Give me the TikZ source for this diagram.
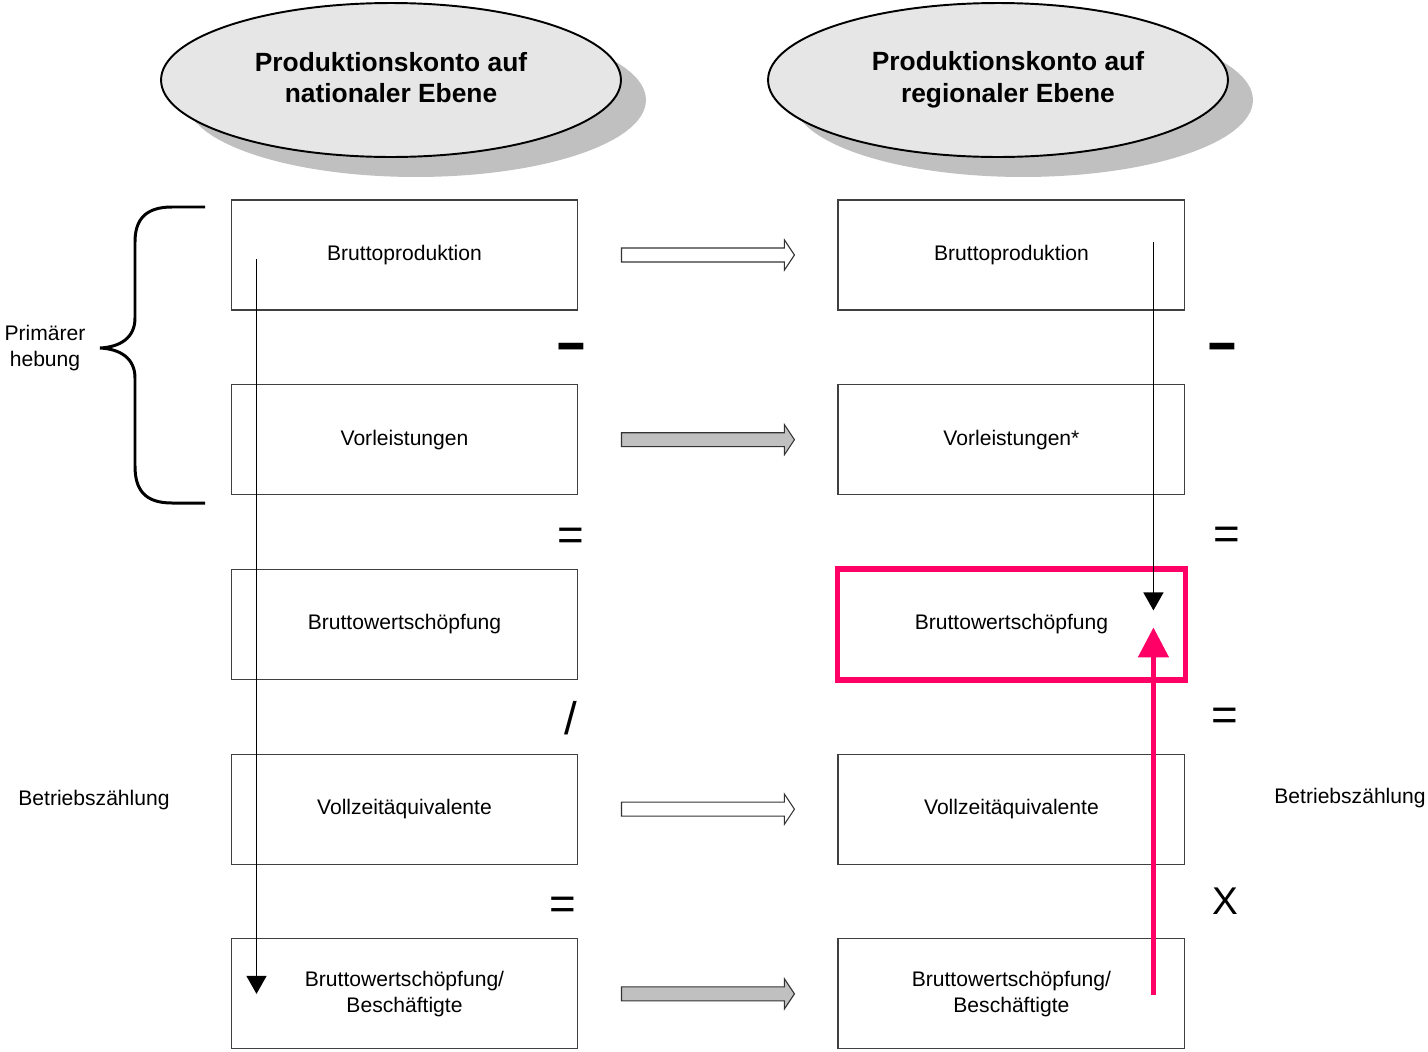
\documentclass[tikz,border=0pt]{standalone}
\usepackage{fontspec}
\setmainfont{Liberation Sans}
\usetikzlibrary{positioning,shapes.geometric,shadows,arrows.meta}
\definecolor{hotpink}{RGB}{255,0,102}
\definecolor{ellgray}{RGB}{230,230,230}
\definecolor{shadowgray}{RGB}{192,192,192}
\tikzset{
  box/.style={rectangle, draw=black!75, line width=0.6pt, minimum width=6.94cm, minimum height=2.2cm, inner sep=0pt, align=center, font=\fontsize{12}{14.5}\selectfont},
  head ell/.style={ellipse, draw, line width=1.1pt, fill=ellgray, minimum width=9.2cm, minimum height=3.08cm, inner sep=0pt, align=center, font=\bfseries\fontsize{15}{18}\selectfont, drop shadow={shadow xshift=0.5cm, shadow yshift=-0.4cm, fill=shadowgray, opacity=1}},
  side label/.style={align=center, inner sep=0pt, font=\fontsize{12}{14.5}\selectfont},
  op sign/.style={inner sep=0pt, font=\fontsize{26}{28}\selectfont},
  block arrow/.style={draw=black!80, line width=0.6pt},
  pink frame/.style={draw=hotpink, line width=3pt},
  thin arrow/.style={line width=0.8pt, -{Triangle[length=0.36cm,width=0.4cm]}},
  pink arrow/.style={draw=hotpink, line width=2.8pt, -{Triangle[length=0.6cm,width=0.6cm]}}
}
% block arrow between two boxes: fill, left box, right box
\newcommand{\blockarrow}[3]{%
  \draw[block arrow, fill=#1]
    ([xshift=0.86cm,yshift=0.14cm]#2.east) -- ([xshift=-1.06cm,yshift=0.14cm]#3.west)
    -- ([xshift=-1.06cm,yshift=0.3cm]#3.west) -- ([xshift=-0.86cm]#3.west)
    -- ([xshift=-1.06cm,yshift=-0.3cm]#3.west) -- ([xshift=-1.06cm,yshift=-0.14cm]#3.west)
    -- ([xshift=0.86cm,yshift=-0.14cm]#2.east) -- cycle;}
% thick minus sign
\newcommand{\thickminus}{\scalebox{1.5}[2]{\bfseries\fontsize{19}{21}\selectfont –}}

\begin{document}
\begin{tikzpicture}[x=0.02cm, y=-0.02cm]
    \useasboundingbox (0,0) rectangle (1428,1052);

    % Headings
    \node[head ell] (hn) at (391,80) {\raisebox{0.1cm}{Produktionskonto auf}\\\raisebox{0.1cm}{nationaler Ebene}};
    \node[head ell] (hr) at (998,80) {\hspace*{0.4cm}Produktionskonto auf\\\hspace*{0.4cm}regionaler Ebene};

    % National column
    \node[box] (np) at (404.5,255) {Bruttoproduktion};
    \node[box] (nv) [below=1.474cm of np] {Vorleistungen};
    \node[box] (nw) [below=1.474cm of nv] {Bruttowertschöpfung};
    \node[box] (nz) [below=1.474cm of nw] {Vollzeitäquivalente};
    \node[box] (nb) [below=1.474cm of nz] {Bruttowertschöpfung/\\Beschäftigte};

    % Regional column
    \node[box] (rp) [right=5.18cm of np] {Bruttoproduktion};
    \node[box] (rv) [right=5.18cm of nv] {Vorleistungen*};
    \node[box] (rw) [right=5.18cm of nw] {Bruttowertschöpfung};
    \node[box] (rz) [right=5.18cm of nz] {Vollzeitäquivalente};
    \node[box] (rb) [right=5.18cm of nb] {Bruttowertschöpfung/\\Beschäftigte};
    \draw[pink frame] (rw.north west) rectangle (rw.south east);

    % Operators
    \node[op sign] (nm) at (571,354) {\thickminus};
    \node[op sign] (ne1) at (571,539) {=};
    \node[op sign] (nd) at (571,718) {/};
    \node[op sign] (ne2) at (563,908) {=};
    \node[op sign] (rm) at (1222,354) {\thickminus};
    \node[op sign] (re1) at (1227,538) {=};
    \node[op sign] (re2) at (1225,719) {=};
    \node[op sign, font=\fontsize{22}{24}\selectfont] (rx) at (1225,901) {X};

    % Side labels
    \node[side label] (prim) at (45,348) {Primärer\\hebung};
    \node[side label] (betl) at (94,800) {Betriebszählung};
    \node[side label] (betr) at (1350,798) {Betriebszählung};

    % Brace
    \draw[line width=1.7pt] (205,207) -- (172,207) .. controls (145,207) and (135,220) .. (135,242)
        -- (135,318) .. controls (135,338) and (120,347) .. (100,348)
        .. controls (120,349) and (135,358) .. (135,378)
        -- (135,466) .. controls (135,490) and (145,503) .. (172,503) -- (205,503);

    % Block arrows
    \blockarrow{white}{np}{rp}
    \blockarrow{shadowgray}{nv}{rv}
    \blockarrow{white}{nz}{rz}
    \blockarrow{shadowgray}{nb}{rb}

    % Vertical arrows
    \draw[thin arrow] ([xshift=0.52cm,yshift=-0.08cm]np.west) -- ([xshift=0.52cm]nb.west);
    \draw[thin arrow] ([xshift=-0.64cm,yshift=0.26cm]rp.east) -- ([xshift=-0.64cm,yshift=0.28cm]rw.east);
    \draw[pink arrow] ([xshift=-0.64cm,yshift=-0.02cm]rb.east) -- ([xshift=-0.64cm,yshift=-0.06cm]rw.east);
\end{tikzpicture}
\end{document}
